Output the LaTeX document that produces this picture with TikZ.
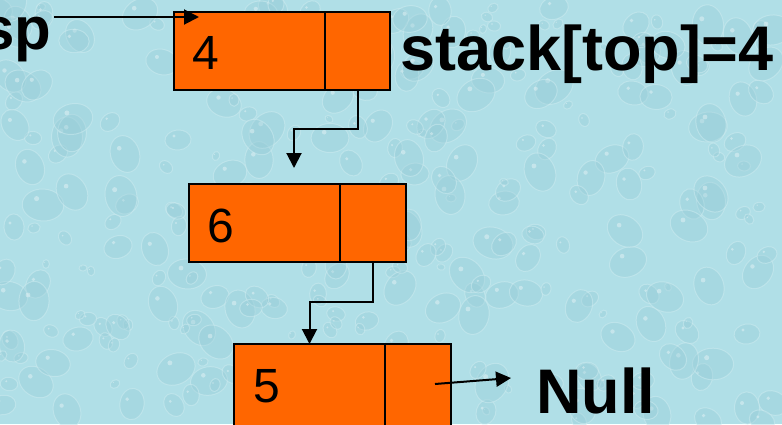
\documentclass[tikz,border=0pt]{standalone}
\usepackage{fontspec}
\setmainfont{Liberation Sans}
\usetikzlibrary{arrows.meta}

\definecolor{cellorange}{HTML}{FF6600}
\definecolor{water}{HTML}{B0DFE7}
\definecolor{dropdark}{HTML}{96CCD7}
\definecolor{droplight}{HTML}{D4EFF3}

\tikzset{
  cell/.style={draw=black, line width=2pt, fill=cellorange, inner sep=0pt,
               outer sep=0pt, minimum height=78pt, anchor=north west},
  datacell/.style={cell, minimum width=151pt},
  ptrcell/.style={cell, minimum width=65pt},
  value/.style={inner sep=0pt, anchor=base west, font=\fontsize{48}{50}\selectfont},
  label/.style={inner sep=0pt, anchor=base west, font=\fontsize{63}{66}\selectfont\bfseries},
  link/.style={draw=black, line width=2pt, -{Triangle[width=15pt,length=15pt]}},
}

\begin{document}
\begin{tikzpicture}[x=1pt, y=-1pt]
  \useasboundingbox (0,0) rectangle (782,424);
  \clip (0,0) rectangle (782,424);

  % water-drop background
  \fill[water] (0,0) rectangle (782,424);
  \pgfmathsetseed{4711}
  \foreach \i in {1,...,320} {
    \pgfmathsetmacro{\dx}{random(0,782)}
    \pgfmathsetmacro{\dy}{random(0,424)}
    \pgfmathsetmacro{\dr}{3+rnd*13}
    \pgfmathsetmacro{\da}{random(0,180)}
    \fill[dropdark, opacity=0.35, rotate around={\da:(\dx,\dy)}]
      (\dx,\dy) ellipse ({\dr*1.3} and \dr);
    \draw[droplight, opacity=0.45, line width=1pt, rotate around={\da:(\dx,\dy)}]
      (\dx,\dy) ellipse ({\dr*1.3} and \dr);
    \fill[white, opacity=0.35] (\dx-\dr*0.4,\dy-\dr*0.4) circle ({\dr*0.16});
  }

  % list cells
  \node[datacell] (d1) at (174,12) {};
  \node[ptrcell, minimum width=65pt] (p1) at (d1.north east) {};
  \node[datacell] (d2) at (189,184) {};
  \node[ptrcell, minimum width=66pt] (p2) at (d2.north east) {};
  \node[datacell, minimum height=84pt] (d3) at (234,344) {};
  \node[ptrcell, minimum width=66pt, minimum height=84pt] (p3) at (d3.north east) {};

  % stored values
  \node[value] (v1) at (192,69) {4};
  \node[value] (v2) at (207,242) {6};
  \node[value] (v3) at (253,402) {5};

  % labels
  \node[label, font=\fontsize{60}{62}\selectfont\bfseries] (sp) at (-19,49) {sp};
  \node[label] (top) at (400,70) {stack[top]=4};
  \node[label] (null) at (536,413) {Null};

  % pointers
  \coordinate (sptail) at (54,17);
  \coordinate (sptip) at (199,17);
  \draw[link] (sptail) -- (sptip);

  \coordinate (tip1) at (294,168);
  \draw[link] (p1.south) -- ++(0,39) -| (tip1);
  \draw[link] (p2.south) -- ++(0,40) -| (d3.north);

  \coordinate (nulltip) at (511,378);
  \draw[link] ([xshift=17pt,yshift=2pt]p3.center) -- (nulltip);
\end{tikzpicture}
\end{document}
